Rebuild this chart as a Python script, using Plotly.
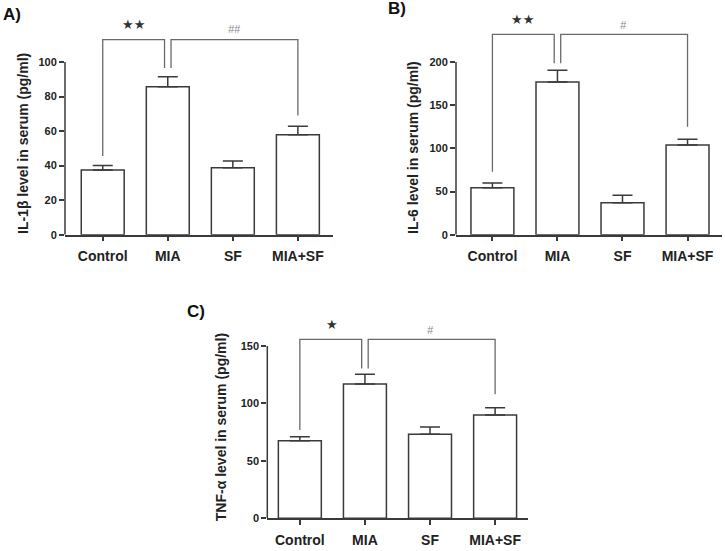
import plotly.graph_objects as go

W, H = 725, 551
# small vertical calibration so that the rendered picture lines up with the reference
VY = 1.011

categories = ["Control", "MIA", "SF", "MIA+SF"]
positions = [0, 1, 2, 3]

il1b_mean = [37.5, 85.7, 38.8, 57.9]
il1b_sem = [2.5, 5.8, 3.9, 4.9]

il6_mean = [54.4, 176.8, 37.0, 103.9]
il6_sem = [5.5, 13.6, 8.6, 6.6]

tnf_mean = [67.5, 116.9, 73.1, 89.9]
tnf_sem = [3.5, 8.4, 6.4, 6.4]

# significance brackets: top height, leg bottoms (Control, MIA-left, MIA-right, MIA+SF)
il1b_bracket_top = 113
il1b_bracket_legs = [45.6, 96.5, 96.5, 69]
il6_bracket_top = 232
il6_bracket_legs = [73, 198.5, 198.5, 125]
tnf_bracket_top = 155.8
tnf_bracket_legs = [76.8, 130.5, 130.5, 108]

il1b_ticks = [0, 20, 40, 60, 80, 100]
il6_ticks = [0, 50, 100, 150, 200]
tnf_ticks = [0, 50, 100, 150]


def px_x(px):
    return px / W


def px_y(py):
    return 1 - (py * VY) / H


panels = [
    dict(key="", mean=il1b_mean, sem=il1b_sem, top=il1b_bracket_top, legs=il1b_bracket_legs,
         ticks=il1b_ticks, xpx=(65, 333), xr=[-0.58, 3.54], y0px=234.7, ppu=1.727, toppx=20,
         title="IL-1β level in serum (pg/ml)", tpos=(23, 144), label="A)", lpos=(12, 15),
         sig1="★★", sig2="##", s1=(0.48, 24.3), s2=(2.02, 29.3)),
    dict(key="2", mean=il6_mean, sem=il6_sem, top=il6_bracket_top, legs=il6_bracket_legs,
         ticks=il6_ticks, xpx=(456, 722), xr=[-0.56, 3.53], y0px=234.7, ppu=0.8635, toppx=15,
         title="IL-6 level in serum (pg/ml)", tpos=(413, 148), label="B)", lpos=(397, 9),
         sig1="★★", sig2="#", s1=(0.47, 20), s2=(2.01, 25)),
    dict(key="3", mean=tnf_mean, sem=tnf_sem, top=tnf_bracket_top, legs=tnf_bracket_legs,
         ticks=tnf_ticks, xpx=(267.3, 528.3), xr=[-0.5, 3.51], y0px=518.3, ppu=1.1487, toppx=318,
         title="TNF-α level in serum (pg/ml)", tpos=(221.7, 427.5), label="C)", lpos=(196, 312),
         sig1="★", sig2="#", s1=(0.49, 325), s2=(2.0, 330)),
]

LINE = "#3a3a3a"
BRK = "#6a6a6a"
FONT = "Liberation Sans, Arial, sans-serif"

fig = go.Figure()
layout = dict(width=W, height=H, margin=dict(l=0, r=0, t=0, b=0, pad=0), autosize=False,
              paper_bgcolor="white", plot_bgcolor="white", showlegend=False,
              shapes=[], annotations=[])

for p in panels:
    k = p["key"]
    xa, ya = "x" + k, "y" + k
    ymax = (p["y0px"] - p["toppx"]) / p["ppu"]
    fig.add_trace(go.Bar(
        x=positions, y=p["mean"], xaxis=xa, yaxis=ya, width=0.66,
        marker=dict(color="white", line=dict(color=LINE, width=1.5)),
        error_y=dict(type="data", array=p["sem"], arrayminus=[0] * 4, symmetric=False,
                     color=LINE, thickness=1.5, width=10),
        hoverinfo="skip"))
    legs = p["legs"]
    top = p["top"]
    fig.add_trace(go.Scatter(
        x=[positions[0], positions[0], positions[1] - 0.05, positions[1] - 0.05],
        y=[legs[0], top, top, legs[1]], xaxis=xa, yaxis=ya,
        mode="lines", line=dict(color=BRK, width=1.3), hoverinfo="skip", cliponaxis=False))
    fig.add_trace(go.Scatter(
        x=[positions[1] + 0.05, positions[1] + 0.05, positions[3], positions[3]],
        y=[legs[2], top, top, legs[3]], xaxis=xa, yaxis=ya,
        mode="lines", line=dict(color=BRK, width=1.3), hoverinfo="skip", cliponaxis=False))

    xdom = [max(0.0, px_x(p["xpx"][0])), min(1.0, px_x(p["xpx"][1]))]
    ydom = [max(0.0, px_y(p["y0px"])), min(1.0, px_y(p["toppx"]))]
    layout["xaxis" + k] = dict(
        domain=xdom, range=p["xr"], anchor=ya, tickvals=positions, ticktext=categories,
        showline=True, linecolor=LINE, linewidth=1.5, ticks="outside", ticklen=5,
        tickcolor=LINE, tickwidth=1.5, showgrid=False, zeroline=False, ticklabelstandoff=3,
        tickfont=dict(family=FONT, size=14, color="#222", weight="bold"))
    layout["yaxis" + k] = dict(
        domain=ydom, range=[0, ymax], anchor=xa, showline=False,
        tickvals=p["ticks"], ticks="outside", ticklen=5, tickcolor=LINE, tickwidth=1.5,
        showgrid=False, zeroline=False,
        tickfont=dict(family=FONT, size=11, color="#222", weight="bold"))
    layout["shapes"].append(dict(type="line", xref=xa + " domain", yref=ya,
                                 x0=0, x1=0, y0=0, y1=max(p["ticks"]),
                                 line=dict(color=LINE, width=1.5)))
    layout["annotations"].append(dict(
        text=p["title"], textangle=-90, xref="paper", yref="paper",
        x=px_x(p["tpos"][0]), y=px_y(p["tpos"][1]), xanchor="center", yanchor="middle",
        showarrow=False, font=dict(family=FONT, size=14, color="#222", weight="bold")))
    layout["annotations"].append(dict(
        text=p["label"], xref="paper", yref="paper",
        x=px_x(p["lpos"][0]), y=px_y(p["lpos"][1]), xanchor="center", yanchor="middle",
        showarrow=False, font=dict(family=FONT, size=17, color="#111", weight="bold")))
    layout["annotations"].append(dict(
        text=p["sig1"], xref="x" + k, yref="paper", x=p["s1"][0], y=px_y(p["s1"][1]),
        xanchor="center", yanchor="middle",
        showarrow=False, font=dict(family="DejaVu Sans", size=13, color="#333")))
    layout["annotations"].append(dict(
        text="<i>" + p["sig2"] + "</i>", xref="x" + k, yref="paper", x=p["s2"][0],
        y=px_y(p["s2"][1]), xanchor="center", yanchor="middle", showarrow=False,
        font=dict(family=FONT, size=11, color="#8a8a8a")))

fig.update_layout(**layout)
fig.write_html("out.html", config={"displayModeBar": False},
               post_script="document.body.style.margin='0px';"
                           "document.body.style.overflow='hidden';")
